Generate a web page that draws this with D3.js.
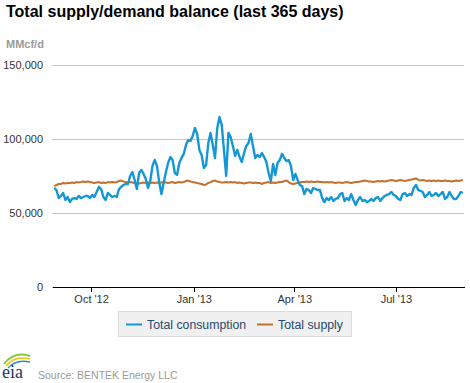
<!DOCTYPE html>
<html>
<head>
<meta charset="utf-8">
<script src="https://cdn.jsdelivr.net/npm/d3@7"></script>
<style>
  html, body { margin: 0; padding: 0; background: #fff; }
  svg { display: block; font-family: "Liberation Sans", Arial, sans-serif; }
</style>
</head>
<body>
<svg id="chart" width="470" height="383"></svg>
<script>
// ---- data ----
const seriesNames = ["Total consumption", "Total supply"];
const startDate = "2012-08-29";   // first observation, values every 2 days
const stepDays = 2;
const consumption = [
66900,65500,60100,61500,63500,58800,60800,57400,59500,60100,
59500,61500,60100,60800,61500,61500,60100,62200,60800,64200,
67600,66200,60800,58800,63500,62200,60800,61500,60800,66200,
67600,68900,69600,69600,75000,77700,72300,66200,77000,79100,
76400,73000,66900,71600,81800,85800,81800,70900,62800,70300,
77700,83800,87800,85800,77000,75700,83800,87200,89900,95900,
99300,98700,102000,107400,103400,92600,89200,80400,82400,97300,
104100,95900,87200,107400,114900,109500,92600,75000,104100,101400,
95300,88500,92600,87800,84500,90500,95300,97300,103400,95300,
87200,89200,87800,90500,87800,84500,77000,71600,83100,75700,
83800,85800,89900,87200,85100,85800,81800,72300,76400,72300,
68900,68200,62800,66200,65500,63500,66900,66200,65500,65500,
60100,57400,60100,58800,60800,58100,59500,60100,62800,63500,
58100,60100,58800,62800,58800,55400,58800,60800,58100,58800,
57400,58100,59500,58100,60100,60800,58100,60100,61500,62200,
62800,64200,62200,61500,59500,58800,62800,63500,61500,62800,
62200,66900,68900,65500,64900,64200,60800,62200,64200,61500,
62200,63500,61500,62800,64200,59500,60800,64200,61500,59500,
59500,61500,64200,63500
];
const supply = [
68200,68900,69600,69600,70300,69900,70300,70300,70600,70300,
70900,70600,70900,71300,70900,71300,70900,70600,70300,70600,
70900,70300,70600,70300,70900,70600,70900,70600,70900,71600,
71900,71300,70900,70600,70900,70600,70300,69600,69900,70300,
70600,70300,70600,70300,70600,70300,70600,70300,70600,70900,
70600,70300,70600,70900,70300,70600,70900,70600,70900,71600,
71900,71300,70900,70600,70300,69900,69600,68900,69300,70300,
70900,71600,71900,71300,70900,70600,70600,70900,70600,70900,
70600,70900,70300,70600,70300,69900,70300,70600,70600,70300,
70600,70300,70300,69600,70300,70600,70900,70300,70600,70300,
70600,70900,70900,71600,71900,70900,69900,69600,69900,70300,
70600,70900,70900,71300,70900,71300,70900,70900,71300,70900,
70900,70600,70900,70600,70900,70600,70300,70600,70600,70300,
70600,70900,70600,70300,70600,70900,70900,71300,71600,71900,
71600,71300,71300,70900,71300,71600,71300,71600,71300,71600,
71900,72300,71900,71600,71900,72300,71900,71600,71900,72300,
72600,73000,73300,72600,71900,72300,71900,71600,71900,71600,
71900,71600,71900,71600,71600,71900,71600,71600,71300,71600,
71900,71600,71900,72300
];
const xTickDates = ["2012-10-01", "2013-01-01", "2013-04-01", "2013-07-01"];
const xTickLabels = ["Oct '12", "Jan '13", "Apr '13", "Jul '13"];
const yTickValues = [0, 50000, 100000, 150000];
const yTickLabels = ["0", "50,000", "100,000", "150,000"];
const xDomain = ["2012-08-27", "2013-08-31"];
const yDomain = [0, 150000];

// ---- layout / style ----
const colors = ["#1597d6", "#c4712e"];
const plot = { left: 52, right: 464, top: 65, bottom: 287 };

const svg = d3.select("#chart");
const parse = d3.utcParse("%Y-%m-%d");
const t0 = parse(startDate);
const dates = consumption.map((_, i) => d3.utcDay.offset(t0, i * stepDays));

const x = d3.scaleUtc().domain(xDomain.map(parse)).range([plot.left, plot.right]);
const y = d3.scaleLinear().domain(yDomain).range([plot.bottom, plot.top]);

// title
svg.append("text").attr("x", 6).attr("y", 17)
  .attr("font-size", 16).attr("font-weight", "bold").attr("fill", "#000")
  .text("Total supply/demand balance (last 365 days)");

// unit label
svg.append("text").attr("x", 6).attr("y", 48)
  .attr("font-size", 11).attr("font-weight", "bold").attr("fill", "#9a9a9a")
  .text("MMcf/d");

// y grid + labels
const yAxis = d3.axisLeft(y)
  .tickValues(yTickValues)
  .tickFormat((d, i) => yTickLabels[i])
  .tickSize(-(plot.right - plot.left))
  .tickPadding(9);
const gy = svg.append("g").attr("transform", `translate(${plot.left},0)`).call(yAxis);
gy.select(".domain").remove();
gy.selectAll(".tick line").attr("stroke", "#c4c4c4").attr("shape-rendering", "crispEdges");
gy.selectAll(".tick text").attr("font-size", 11).attr("fill", "#333")
  .attr("font-family", "'Liberation Sans', Arial, sans-serif");

// x axis
const xAxis = d3.axisBottom(x)
  .tickValues(xTickDates.map(parse))
  .tickFormat((d, i) => xTickLabels[i])
  .tickSize(5).tickSizeOuter(0).tickPadding(3);
const gx = svg.append("g").attr("transform", `translate(0,${plot.bottom})`).call(xAxis);
gx.select(".domain").attr("stroke", "#000").attr("shape-rendering", "crispEdges");
gx.selectAll(".tick line").attr("stroke", "#000").attr("shape-rendering", "crispEdges");
gx.selectAll(".tick text").attr("font-size", 11).attr("fill", "#333")
  .attr("font-family", "'Liberation Sans', Arial, sans-serif");

// lines
const line = d3.line().x((d, i) => x(dates[i])).y(d => y(d)).curve(d3.curveLinear);
svg.append("path").datum(supply)
  .attr("fill", "none").attr("stroke", colors[1]).attr("stroke-width", 2)
  .attr("stroke-linejoin", "round").attr("d", line);
svg.append("path").datum(consumption)
  .attr("fill", "none").attr("stroke", colors[0]).attr("stroke-width", 2.4)
  .attr("stroke-linejoin", "round").attr("d", line);

// legend
const lg = svg.append("g");
lg.append("rect").attr("x", 118.5).attr("y", 311.5).attr("width", 233).attr("height", 25)
  .attr("fill", "#f0f0f0").attr("stroke", "#dcdcdc");
const legendX = [126, 257];
seriesNames.forEach((name, i) => {
  lg.append("line").attr("x1", legendX[i]).attr("x2", legendX[i] + 16)
    .attr("y1", 324.5).attr("y2", 324.5)
    .attr("stroke", colors[i]).attr("stroke-width", 2);
  lg.append("text").attr("x", legendX[i] + 21).attr("y", 328.5)
    .attr("font-size", 12.3).attr("fill", "#274b6d").text(name);
});

// source + logo
const logo = svg.append("g");
logo.append("path").attr("d", "M4,364 Q14,351 30,356").attr("fill", "none")
  .attr("stroke", "#8cc63f").attr("stroke-width", 2);
logo.append("path").attr("d", "M6,366 Q15,355 30,359").attr("fill", "none")
  .attr("stroke", "#f2c300").attr("stroke-width", 1.6);
logo.append("path").attr("d", "M8,368 Q16,359 30,362").attr("fill", "none")
  .attr("stroke", "#2a8bd0").attr("stroke-width", 1.4);
logo.append("text").attr("x", 2).attr("y", 378)
  .attr("font-family", "'Liberation Serif', 'DejaVu Serif', serif")
  .attr("font-size", 18).attr("fill", "#163a6b").text("eia");

svg.append("text").attr("x", 38).attr("y", 379)
  .attr("font-size", 10.5).attr("fill", "#9a9a9a").text("Source: BENTEK Energy LLC");
</script>
</body>
</html>
